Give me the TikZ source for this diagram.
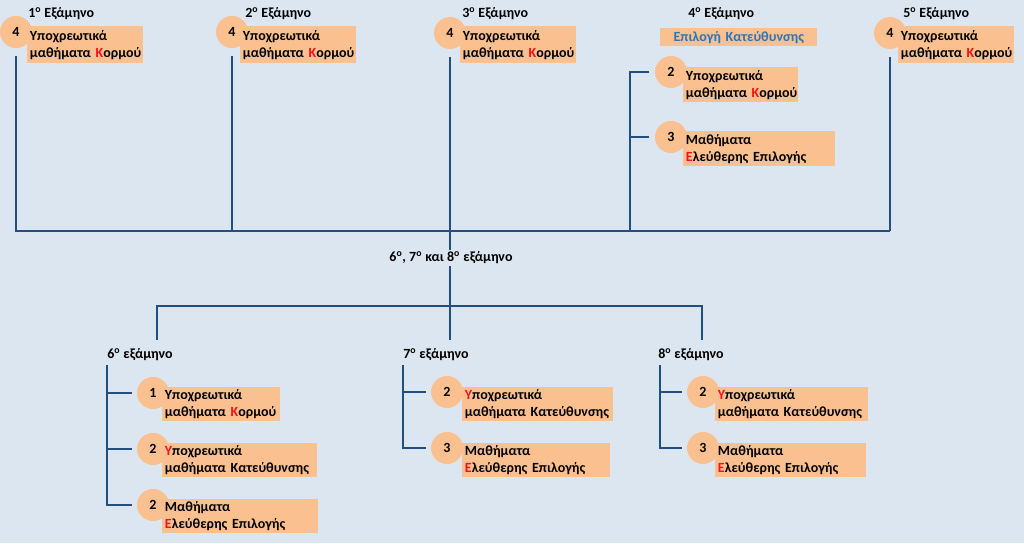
\documentclass[tikz,border=0pt]{standalone}
\usepackage{fontspec}
\setmainfont{Carlito}
\definecolor{bgc}{RGB}{220,230,241}
\definecolor{orng}{RGB}{250,192,144}
\definecolor{lnc}{RGB}{35,78,128}
\definecolor{kred}{RGB}{240,20,20}
\definecolor{bltx}{RGB}{46,117,182}
\newcommand{\twoln}[2]{\mbox{#1}\\\mbox{#2}}
\begin{document}
\begin{tikzpicture}[x=0.75pt,y=-0.75pt,
  txt/.style={font=\bfseries\fontsize{10.5}{12.9}\selectfont, text=black},
  lbl/.style={txt, inner sep=0pt, anchor=west},
  circ/.style={txt, circle, fill=orng, minimum size=24pt, inner sep=0pt},
  obox/.style={txt, fill=orng, inner xsep=2pt, inner ysep=0pt, align=left, anchor=north west},
  ln/.style={draw=lnc, line width=1.2pt}]
\fill[bgc] (0,0) rectangle (1024,543);
\useasboundingbox (0,0) rectangle (1024,543);

% ---- top row labels
\node[lbl] (l1) at (28,14) {1\textsuperscript{ο} Εξάμηνο};
\node[lbl] (l2) at (245,14) {2\textsuperscript{ο} Εξάμηνο};
\node[lbl] (l3) at (462,14) {3\textsuperscript{ο} Εξάμηνο};
\node[lbl] (l4) at (688,14) {4\textsuperscript{ο} Εξάμηνο};
\node[lbl] (l5) at (903,14) {5\textsuperscript{ο} Εξάμηνο};

% ---- circles
\node[circ] (c1) at (16,32) {4};
\node[circ] (c2) at (232,32) {4};
\node[circ] (c3) at (450,33) {4};
\node[circ] (c5) at (890,33) {4};
\node[circ] (c41) at (671,72) {2};
\node[circ] (c42) at (671,137) {3};
\node[circ] (c61) at (153,393) {1};
\node[circ] (c62) at (153,449) {2};
\node[circ] (c63) at (153,505) {2};
\node[circ] (c71) at (447,392) {2};
\node[circ] (c72) at (447,448) {3};
\node[circ] (c81) at (703,392) {2};
\node[circ] (c82) at (703,448) {3};

% ---- boxes
\node[obox, text width=83pt, minimum height=27.75pt] (b1) at (27,26) {\twoln{Υποχρεωτικά}{μαθήματα \textcolor{kred}{Κ}ορμού}};
\node[obox, text width=83pt, minimum height=27.75pt] (b2) at (240,26) {\twoln{Υποχρεωτικά}{μαθήματα \textcolor{kred}{Κ}ορμού}};
\node[obox, text width=83pt, minimum height=27.75pt] (b3) at (460,26) {\twoln{Υποχρεωτικά}{μαθήματα \textcolor{kred}{Κ}ορμού}};
\node[obox, text width=83pt, minimum height=27.75pt] (b5) at (898,26) {\twoln{Υποχρεωτικά}{μαθήματα \textcolor{kred}{Κ}ορμού}};
\node[obox, text width=113.75pt, minimum height=13.5pt, align=center, text=bltx] (bsel) at (660,28) {Επιλογή Κατεύθυνσης};
\node[obox, text width=82.25pt, minimum height=26.25pt] (b41) at (683,67) {\twoln{Υποχρεωτικά}{μαθήματα \textcolor{kred}{Κ}ορμού}};
\node[obox, text width=110pt, minimum height=26.25pt] (b42) at (683,131) {\twoln{Μαθήματα}{\textcolor{kred}{Ε}λεύθερης Επιλογής}};

\node[obox, text width=84.5pt, minimum height=25.5pt] (b61) at (162,387) {\twoln{Υποχρεωτικά}{μαθήματα \textcolor{kred}{Κ}ορμού}};
\node[obox, text width=112.25pt, minimum height=25.5pt] (b62) at (162,443) {\twoln{\textcolor{kred}{Υ}ποχρεωτικά}{μαθήματα Κατεύθυνσης}};
\node[obox, text width=113pt, minimum height=25.5pt] (b63) at (162,499) {\twoln{Μαθήματα}{\textcolor{kred}{Ε}λεύθερης Επιλογής}};
\node[obox, text width=109.25pt, minimum height=25.5pt] (b71) at (462,387) {\twoln{\textcolor{kred}{Υ}ποχρεωτικά}{μαθήματα Κατεύθυνσης}};
\node[obox, text width=107pt, minimum height=25.5pt] (b72) at (462,443) {\twoln{Μαθήματα}{\textcolor{kred}{Ε}λεύθερης Επιλογής}};
\node[obox, text width=110.75pt, minimum height=25.5pt] (b81) at (715,387) {\twoln{\textcolor{kred}{Υ}ποχρεωτικά}{μαθήματα Κατεύθυνσης}};
\node[obox, text width=109.25pt, minimum height=25.5pt] (b82) at (715,443) {\twoln{Μαθήματα}{\textcolor{kred}{Ε}λεύθερης Επιλογής}};

% ---- bottom labels
\node[lbl] (l6) at (107,355) {6\textsuperscript{ο} εξάμηνο};
\node[lbl] (l7) at (403,355) {7\textsuperscript{ο} εξάμηνο};
\node[lbl] (l8) at (658,355) {8\textsuperscript{ο} εξάμηνο};

% ---- coordinates
\coordinate (bR) at (890,231);
\coordinate (k4) at (630,231);
\coordinate (m7) at (450,340);
\coordinate (d6) at (157,340);
\coordinate (hb) at (702,306);
\coordinate (d8) at (702,340);
\coordinate (k6) at (107,365);
\coordinate (k7) at (403,365);
\coordinate (k8) at (660,365);

% ---- top connectors
\draw[ln, shorten <=6pt] (c1.south) |- (bR);
\draw[ln, shorten <=6pt] (c2.south) -- (c2.south |- bR);
\draw[ln, shorten <=6pt] (c5.south) -- (c5.south |- bR);
\draw[ln, shorten <=6pt] (c3.south) -- (m7);
\draw[ln] ([xshift=-4pt]c41.west) -| (k4);
\draw[ln] ([xshift=-4pt]c42.west) -- (c42.west -| k4);

% ---- bottom bar
\draw[ln] (d6) |- (hb) -- (d8);
\node[txt, fill=bgc, inner sep=1.5pt] (lmid) at (451,258) {6\textsuperscript{ο}, 7\textsuperscript{ο} και 8\textsuperscript{ο} εξάμηνο};

% ---- brackets
\draw[ln] (k6) |- ([xshift=-3.75pt]c63.west);
\draw[ln] (k6 |- c61) -- ([xshift=-3.75pt]c61.west);
\draw[ln] (k6 |- c62) -- ([xshift=-3.75pt]c62.west);
\draw[ln] (k7) |- ([xshift=-3.75pt]c72.west);
\draw[ln] (k7 |- c71) -- ([xshift=-3.75pt]c71.west);
\draw[ln] (k8) |- ([xshift=-3.75pt]c82.west);
\draw[ln] (k8 |- c81) -- ([xshift=-3.75pt]c81.west);
\end{tikzpicture}
\end{document}
